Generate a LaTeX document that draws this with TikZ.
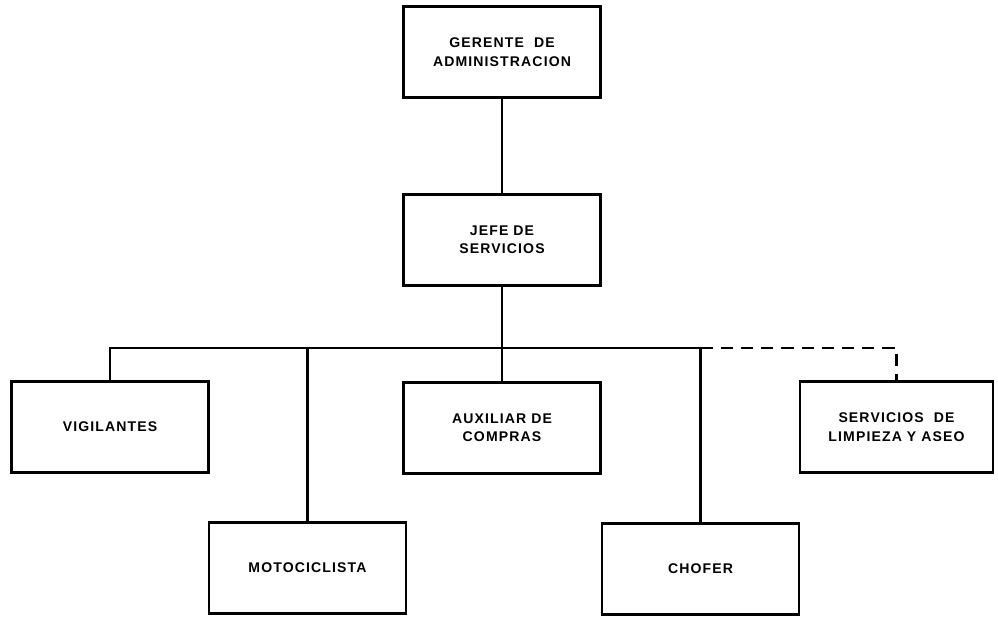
\documentclass[tikz,border=0pt]{standalone}
\usepackage{fontspec}
\usepackage{tikz}
\usetikzlibrary{positioning}

\newfontfamily\chartfont[LetterSpace=8]{Liberation Sans Bold}

\begin{document}
\begin{tikzpicture}[x=0.02cm, y=-0.02cm]

    %
    % Styles for boxes and connecting lines
    %
    \tikzstyle{post} = [draw, rectangle, line width=1.4pt, align=center,
                        minimum width=3.94cm, minimum height=1.82cm, inner sep=2pt,
                        font={\chartfont\fontsize{8}{10.5}\selectfont}, text=black];
    \tikzstyle{orgLine} = [black, line width=1.7pt];
    \tikzstyle{staffLine} = [orgLine, line width=1.4pt, dash pattern=on 7pt off 4.5pt];

    \useasboundingbox (0,0) rectangle (998,616);

    %
    % Position boxes
    %
    \node[post, name=gerente] at (502,52) {GERENTE\ \ DE\\ADMINISTRACION};
    \node[post, name=jefe] at (502,240) {JEFE DE\\SERVICIOS};
    \node[post, name=vigilantes] at (110,427) {VIGILANTES};
    \node[post, name=auxiliar] at (502,428) {AUXILIAR DE\\COMPRAS};
    \node[post, name=servicios, minimum width=3.86cm] at (896.5,427) {SERVICIOS\ \ DE\\LIMPIEZA Y ASEO};
    \node[post, name=motociclista] at (307.5,568) {MOTOCICLISTA};
    \node[post, name=chofer] at (700.5,569) {CHOFER};

    \coordinate (bus) at (502,348);

    %
    % Connect boxes via lines
    %
    \draw[orgLine] (gerente) -- (jefe);
    \draw[orgLine] (jefe) -- (auxiliar);
    \draw[orgLine] (vigilantes.north) |- (bus) -| (chofer.north);
    \draw[orgLine] (motociclista.north) -- (motociclista.north |- bus);
    \draw[staffLine] (chofer.north |- bus) -| (servicios.north);
  \end{tikzpicture}
\end{document}
